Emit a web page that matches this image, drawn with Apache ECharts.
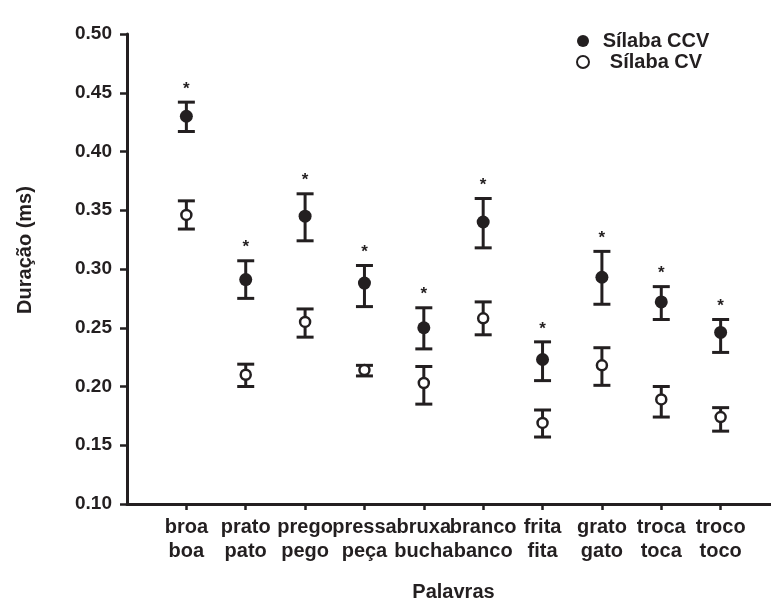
<!DOCTYPE html>
<html>
<head>
<meta charset="utf-8">
<script src="https://cdn.jsdelivr.net/npm/echarts@6/dist/echarts.min.js"></script>
<style>
html,body{margin:0;padding:0;background:#fff;}
#chart{width:771px;height:601px;}
</style>
</head>
<body>
<div id="chart"></div>
<script>
const categories = ['broa\nboa','prato\npato','prego\npego','pressa\npeça','bruxa\nbucha','branco\nbanco','frita\nfita','grato\ngato','troca\ntoca','troco\ntoco'];
const ccvMean = [0.430,0.291,0.345,0.288,0.250,0.340,0.223,0.293,0.272,0.246];
const ccvLow  = [0.417,0.275,0.324,0.268,0.232,0.318,0.205,0.270,0.257,0.229];
const ccvHigh = [0.442,0.307,0.364,0.303,0.267,0.360,0.238,0.315,0.285,0.257];
const cvMean  = [0.346,0.210,0.255,0.214,0.203,0.258,0.169,0.218,0.189,0.174];
const cvLow   = [0.334,0.200,0.242,0.209,0.185,0.244,0.157,0.201,0.174,0.162];
const cvHigh  = [0.358,0.219,0.266,0.218,0.217,0.272,0.180,0.233,0.200,0.182];
const sigMarks = ['*','*','*','*','*','*','*','*','*','*'];
const yMin = 0.10, yMax = 0.50, yStep = 0.05;
const seriesNames = ['Sílaba CCV','Sílaba CV'];
const xName = 'Palavras';
const yName = 'Duração (ms)';

const INK = '#231f20';
const FONT = "'Liberation Sans', Arial, sans-serif";

// padded category axis so the axis starts at the y axis and runs past the last word
const axisCats = [''].concat(categories, ['']);

function pts(mean){ return mean.map((v,i)=>[i+1, v]); }
function bars(mean, lo, hi, marks){ return mean.map((v,i)=>[i+1, v, lo[i], hi[i], marks ? marks[i] : '']); }

function renderBar(params, api){
  const x = api.value(0);
  const top = api.coord([x, api.value(3)]);
  const bot = api.coord([x, api.value(2)]);
  const hw = 8.5;
  const st = {stroke: INK, lineWidth: 3};
  const children = [
    {type:'line', shape:{x1:top[0], y1:top[1], x2:bot[0], y2:bot[1]}, style:st},
    {type:'line', shape:{x1:top[0]-hw, y1:top[1], x2:top[0]+hw, y2:top[1]}, style:st},
    {type:'line', shape:{x1:bot[0]-hw, y1:bot[1], x2:bot[0]+hw, y2:bot[1]}, style:st}
  ];
  const mark = api.value(4);
  if (mark) {
    children.push({type:'text', x: top[0], y: top[1]-13,
      style:{text: String(mark), fill: INK, font: 'bold 17px ' + FONT, align:'center', verticalAlign:'middle'}});
  }
  return {type:'group', children};
}

const chart = echarts.init(document.getElementById('chart'), null, {renderer:'canvas'});
chart.setOption({
  animation: false,
  backgroundColor: '#fff',
  textStyle: {fontFamily: FONT, color: INK},
  grid: {left: 127, right: -9, top: 34, bottom: 97, containLabel: false, outerBoundsMode: 'none'},
  legend: {
    data: seriesNames,
    orient: 'vertical',
    left: 571, top: 26,
    itemWidth: 12, itemHeight: 12, itemGap: 1,
    formatter: n => '{a|' + n + '}',
    textStyle: {rich: {a: {width: 124, align: 'center', fontSize: 20, fontWeight: 'bold', lineHeight: 21, color: INK, fontFamily: FONT}}}
  },
  xAxis: {
    type: 'category',
    data: axisCats,
    boundaryGap: false,
    name: xName,
    nameLocation: 'middle',
    nameGap: 78,
    nameTextStyle: {fontSize: 20, fontWeight: 'bold', color: INK, fontFamily: FONT},
    axisLine: {lineStyle: {color: INK, width: 3}},
    axisTick: {show: true, length: 6, lineStyle: {color: INK, width: 2.5}, interval: (i, v) => v !== ''},
    axisLabel: {interval: 0, margin: 11, fontSize: 20, fontWeight: 'bold', color: INK, lineHeight: 24, fontFamily: FONT, hideOverlap: false},
    splitLine: {show: false}
  },
  yAxis: {
    type: 'value',
    min: yMin, max: yMax, interval: yStep,
    name: yName,
    nameLocation: 'middle',
    nameGap: 92,
    nameTextStyle: {fontSize: 20, fontWeight: 'bold', color: INK, fontFamily: FONT, padding: [0, 0, 0, 38]},
    axisLine: {show: true, lineStyle: {color: INK, width: 3}},
    axisTick: {show: true, length: 7, lineStyle: {color: INK, width: 2.5}},
    axisLabel: {margin: 15, fontSize: 19, fontWeight: 'bold', color: INK, fontFamily: FONT, formatter: v => v.toFixed(2)},
    splitLine: {show: false}
  },
  series: [
    {name: 'CCV erro', type: 'custom', renderItem: renderBar, data: bars(ccvMean, ccvLow, ccvHigh, sigMarks), z: 2, silent: true},
    {name: 'CV erro', type: 'custom', renderItem: renderBar, data: bars(cvMean, cvLow, cvHigh, null), z: 2, silent: true},
    {name: seriesNames[0], type: 'scatter', data: pts(ccvMean), symbol: 'circle', symbolSize: 13,
      itemStyle: {color: INK, borderColor: INK, borderWidth: 0, opacity: 1}, z: 5},
    {name: seriesNames[1], type: 'scatter', data: pts(cvMean), symbol: 'circle', symbolSize: 10,
      itemStyle: {color: '#fff', borderColor: INK, borderWidth: 2.5, opacity: 1}, z: 5}
  ]
});
</script>
</body>
</html>
